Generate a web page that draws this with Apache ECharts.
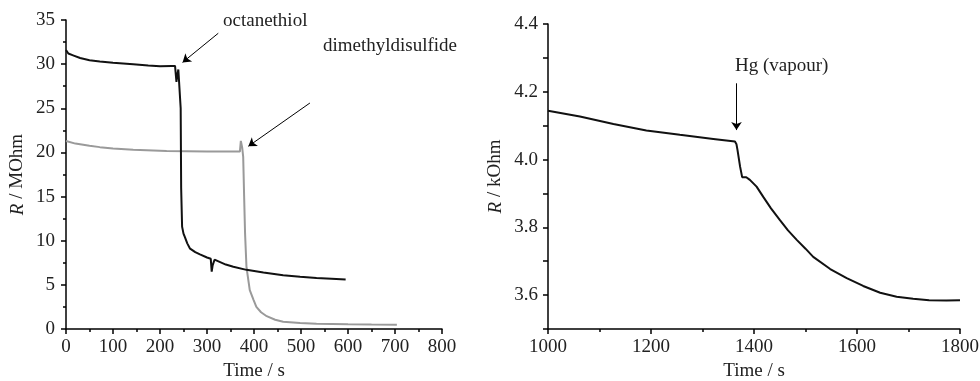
<!DOCTYPE html>
<html>
<head>
<meta charset="utf-8">
<script src="https://cdn.jsdelivr.net/npm/echarts@6/dist/echarts.min.js"></script>
<style>
  html, body { margin: 0; padding: 0; background: #fff; }
  #chart { width: 980px; height: 381px; }
</style>
</head>
<body>
<div id="chart"></div>
<script>
// octanethiol (black), left panel
const octT = [0, 5, 15, 30, 50, 72, 100, 143, 175, 200, 225, 232, 235, 237, 239, 242, 244, 245, 247, 250, 253, 258, 264, 275, 285, 300, 308, 310, 312, 316, 320, 340, 356, 384, 420, 462, 498, 533, 565, 595];
const octR = [31.6, 31.2, 31.0, 30.7, 30.45, 30.3, 30.15, 30.0, 29.85, 29.75, 29.8, 29.8, 28.0, 28.8, 29.4, 29.2, 25, 16, 11.6, 10.8, 10.4, 9.7, 9.1, 8.7, 8.45, 8.1, 7.95, 6.5, 7.2, 7.85, 7.65, 7.3, 7.05, 6.7, 6.4, 6.1, 5.92, 5.78, 5.7, 5.62];

// dimethyldisulfide (grey), left panel
const dmdsT = [0, 20, 50, 72, 100, 143, 214, 300, 370, 372, 375, 377, 379, 381, 384, 391, 399, 405, 415, 427, 445, 462, 498, 533, 600, 650, 704];
const dmdsR = [21.3, 21.0, 20.75, 20.6, 20.45, 20.3, 20.15, 20.1, 20.1, 21.3, 20.5, 19.5, 15, 10.8, 7.0, 4.4, 3.3, 2.5, 1.9, 1.45, 1.05, 0.83, 0.68, 0.6, 0.53, 0.5, 0.49];

// Hg vapour, right panel (kOhm)
const hgT = [1000, 1062, 1127, 1191, 1256, 1321, 1363, 1366, 1368, 1373, 1377, 1380, 1385, 1392, 1405, 1418, 1433, 1450, 1466, 1483, 1500, 1515, 1548, 1580, 1612, 1645, 1677, 1709, 1740, 1774, 1800];
const hgR = [4.144, 4.127, 4.105, 4.086, 4.073, 4.061, 4.053, 4.045, 4.028, 3.979, 3.948, 3.944, 3.948, 3.940, 3.920, 3.890, 3.856, 3.822, 3.791, 3.763, 3.737, 3.713, 3.677, 3.650, 3.627, 3.607, 3.595, 3.589, 3.585, 3.584, 3.585];

// arrows: [fromX, fromY, toX, toY] in data units
const octArrow = [324, 33.5, 248, 30.2];
const dmdsArrow = [519, 25.6, 388, 20.7];
const hgArrow = [1366, 4.225, 1366, 4.087];

const zip = (xs, ys) => xs.map((x, i) => [x, ys[i]]);
const FONT = "Liberation Serif";
const FS = 19;

function axisBase() {
  return {
    axisLine: { lineStyle: { color: "#000", width: 1.5 } },
    axisTick: { lineStyle: { color: "#000", width: 1.5 }, length: 5 },
    minorTick: { show: true, splitNumber: 2, length: 3, lineStyle: { color: "#000", width: 1.5 } },
    splitLine: { show: false },
    axisLabel: { color: "#222", fontFamily: FONT, fontSize: FS, margin: 9, formatter: (v) => String(v) },
    nameTextStyle: { color: "#222", fontFamily: FONT, fontSize: FS },
  };
}

function arrow(a) {
  return {
    silent: true,
    symbol: ["none", "arrow"],
    symbolSize: 8,
    lineStyle: { color: "#000", width: 1, type: "solid" },
    label: { show: false },
    data: [[{ coord: [a[0], a[1]] }, { coord: [a[2], a[3]] }]],
  };
}

const italicR = { i: { fontStyle: "italic", fontFamily: FONT, fontSize: FS, color: "#222" } };

const chart = echarts.init(document.getElementById("chart"));
chart.setOption({
  animation: false,
  backgroundColor: "#fff",
  grid: [
    { left: 66, right: 538, top: 20, bottom: 52, outerBoundsMode: "none", containLabel: false },
    { left: 548, right: 20, top: 24, bottom: 52, outerBoundsMode: "none", containLabel: false },
  ],
  xAxis: [
    Object.assign(axisBase(), {
      gridIndex: 0, type: "value", min: 0, max: 800, interval: 100,
      name: "Time / s", nameLocation: "middle", nameGap: 33,
    }),
    Object.assign(axisBase(), {
      gridIndex: 1, type: "value", min: 1000, max: 1800, interval: 200,
      name: "Time / s", nameLocation: "middle", nameGap: 33,
    }),
  ],
  yAxis: [
    Object.assign(axisBase(), {
      gridIndex: 0, type: "value", min: 0, max: 35, interval: 5,
      name: "{i|R} / MOhm", nameLocation: "middle", nameGap: 39,
    }),
    Object.assign(axisBase(), {
      gridIndex: 1, type: "value", min: 3.5, max: 4.4, interval: 0.1,
      minorTick: { show: false },
      name: "{i|R} / kOhm", nameLocation: "middle", nameGap: 43,
    }),
  ],
  series: [
    {
      type: "line", xAxisIndex: 0, yAxisIndex: 0, showSymbol: false,
      data: zip(dmdsT, dmdsR),
      lineStyle: { color: "#9a9a9a", width: 2 },
      markLine: arrow(dmdsArrow),
    },
    {
      type: "line", xAxisIndex: 0, yAxisIndex: 0, showSymbol: false,
      data: zip(octT, octR),
      lineStyle: { color: "#111", width: 2 },
      markLine: arrow(octArrow),
    },
    {
      type: "line", xAxisIndex: 1, yAxisIndex: 1, showSymbol: false,
      data: zip(hgT, hgR),
      lineStyle: { color: "#111", width: 2 },
      markLine: arrow(hgArrow),
    },
  ],
  graphic: [
    { type: "text", left: 223, top: 12, style: { text: "octanethiol", font: FS + "px " + FONT, fill: "#222" } },
    { type: "text", left: 323, top: 37, style: { text: "dimethyldisulfide", font: FS + "px " + FONT, fill: "#222" } },
    { type: "text", left: 735, top: 57, style: { text: "Hg (vapour)", font: FS + "px " + FONT, fill: "#222" } },
  ],
});

// italic R in the y-axis names, and only even tenths labelled on the right axis
chart.setOption({
  yAxis: [
    { nameTextStyle: { rich: italicR }, axisLabel: { margin: 11 } },
    {
      nameTextStyle: { rich: italicR },
      axisLabel: { margin: 10, formatter: (v) => (Math.round(v * 10) % 2 === 0 ? v.toFixed(1) : "") },
    },
  ],
});
</script>
</body>
</html>
